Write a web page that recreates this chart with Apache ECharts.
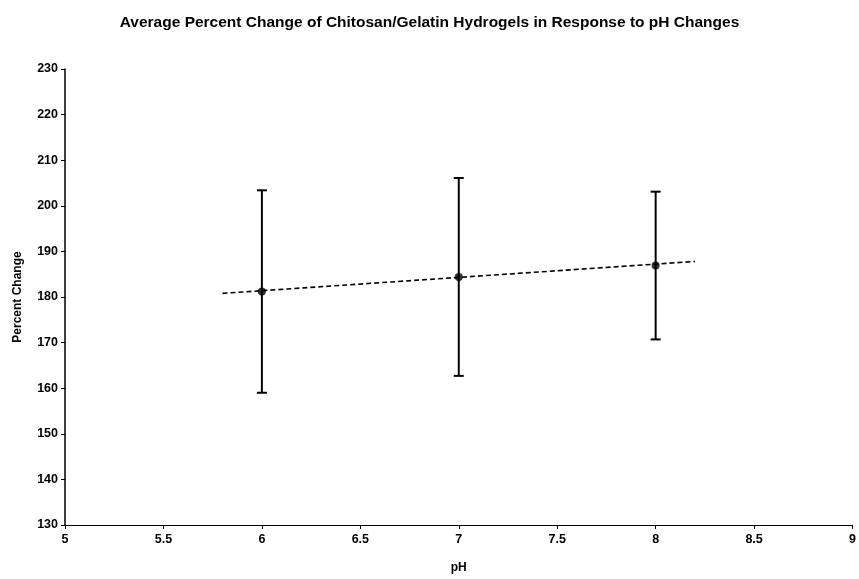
<!DOCTYPE html>
<html>
<head>
<meta charset="utf-8">
<script src="https://cdn.jsdelivr.net/npm/echarts@6/dist/echarts.min.js"></script>
<style>
html,body{margin:0;padding:0;background:#fff;overflow:hidden;}
#chart{width:859px;height:579px;}
</style>
</head>
<body>
<div id="chart"></div>
<script>
// Data
var phValues = [6, 7, 8];
var meanChange = [181.2, 184.4, 186.9];
var errLow = [159.0, 162.7, 170.7];
var errHigh = [203.4, 206.1, 203.1];
var trendX = [5.8, 8.2];
var trendY = [180.8, 187.8];

var titleText = 'Average Percent Change of Chitosan/Gelatin Hydrogels in Response to pH Changes';
var xName = 'pH';
var yName = 'Percent Change';

var FONT = '"Liberation Sans", Arial, sans-serif';

var points = phValues.map(function (x, i) { return [x, meanChange[i]]; });
var bars = phValues.map(function (x, i) { return [x, errLow[i], errHigh[i]]; });
var trend = trendX.map(function (x, i) { return [x, trendY[i]]; });

var chart = echarts.init(document.getElementById('chart'), null, {renderer: 'canvas'});
chart.setOption({
  backgroundColor: '#ffffff',
  animation: false,
  title: {
    text: titleText,
    left: 'center',
    top: 10,
    textStyle: {fontFamily: FONT, fontSize: 15.5, fontWeight: 'bold', color: '#000'}
  },
  grid: {left: 65, right: 2, top: 69, bottom: 44, containLabel: false},
  xAxis: {
    type: 'value',
    min: 5, max: 9, interval: 0.5,
    name: xName,
    nameLocation: 'middle',
    nameGap: 37,
    nameTextStyle: {fontFamily: FONT, fontSize: 12, fontWeight: 'bold', color: '#000'},
    axisLine: {show: true, lineStyle: {color: '#000', width: 1}},
    axisTick: {show: true, inside: false, length: 4, lineStyle: {color: '#000'}},
    axisLabel: {fontFamily: FONT, fontSize: 12.5, fontWeight: 'bold', color: '#000', margin: 8,
      formatter: function (v) { return String(v); }},
    splitLine: {show: false}
  },
  yAxis: {
    type: 'value',
    min: 130, max: 230, interval: 10,
    name: yName,
    nameLocation: 'middle',
    nameGap: 41,
    nameRotate: 90,
    nameTextStyle: {fontFamily: FONT, fontSize: 12, fontWeight: 'bold', color: '#000'},
    axisLine: {show: true, lineStyle: {color: '#000', width: 1.5}},
    axisTick: {show: true, inside: false, length: 4, lineStyle: {color: '#000'}},
    axisLabel: {fontFamily: FONT, fontSize: 12.5, fontWeight: 'bold', color: '#000', margin: 7},
    splitLine: {show: false}
  },
  series: [
    {
      type: 'line',
      data: trend,
      symbol: 'none',
      lineStyle: {color: '#000', width: 1.6, type: [5, 3]},
      z: 2
    },
    {
      type: 'custom',
      data: bars,
      renderItem: function (params, api) {
        var x = api.value(0);
        var lo = api.coord([x, api.value(1)]);
        var hi = api.coord([x, api.value(2)]);
        var hw = 5;
        var style = {stroke: '#000', lineWidth: 2};
        return {
          type: 'group',
          children: [
            {type: 'line', shape: {x1: lo[0], y1: lo[1], x2: hi[0], y2: hi[1]}, style: style},
            {type: 'line', shape: {x1: lo[0] - hw, y1: lo[1], x2: lo[0] + hw, y2: lo[1]}, style: style},
            {type: 'line', shape: {x1: hi[0] - hw, y1: hi[1], x2: hi[0] + hw, y2: hi[1]}, style: style}
          ]
        };
      },
      z: 3
    },
    {
      type: 'scatter',
      data: points,
      symbol: 'circle',
      symbolSize: 8,
      itemStyle: {color: '#000'},
      z: 4
    }
  ]
});
</script>
</body>
</html>
